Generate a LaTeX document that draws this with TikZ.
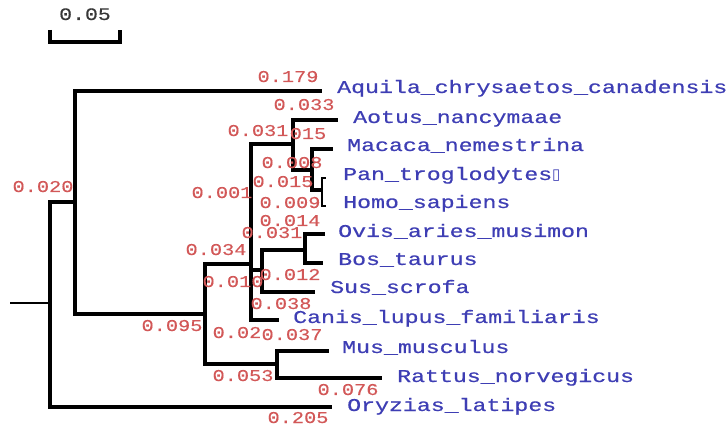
\documentclass[tikz,border=0pt]{standalone}
\usepackage{fontspec}
\newfontfamily\leaffont[FakeStretch=1.29,FakeBold=0.6]{Liberation Mono}
\newfontfamily\lenfont[FakeStretch=1.23,FakeBold=0.3]{Liberation Mono}
\newfontfamily\symfont{DejaVu Sans}
\definecolor{leafblue}{RGB}{62,62,180}
\definecolor{lenred}{RGB}{210,88,88}
\definecolor{scalegray}{RGB}{55,55,55}
\tikzset{
  branch/.style={line width=3.4pt, line join=miter},
  thinbranch/.style={line width=2.4pt, line join=miter},
  leaf/.style={inner sep=0pt, anchor=base west, text=leafblue, font=\leaffont\fontsize{18}{18}\selectfont},
  len/.style={inner sep=0pt, anchor=base, text=lenred, font=\lenfont\fontsize{16.5}{16.5}\selectfont},
}
\begin{document}
\begin{tikzpicture}[x=1pt,y=-1pt]
\useasboundingbox (0,0) rectangle (728,427);
% scale bar
\coordinate (sbL) at (50,30);
\coordinate (sbR) at (120,30);
\draw[line width=3.2pt] (sbL) -- ++(0,12) -| (sbR);
\node[inner sep=0pt, anchor=base, text=scalegray, font=\lenfont\fontsize{17.5}{17.5}\selectfont] (sbt) at (85,20) {0.05};
% internal nodes
\coordinate (r0) at (10,303);
\coordinate (n0) at (50,303);
\coordinate (n1) at (75,202);
\coordinate (n2) at (205,314);
\coordinate (n3) at (251,264);
\coordinate (n4) at (277,364);
\coordinate (n5) at (293,144);
\coordinate (n6) at (262,270);
\coordinate (n7) at (312,170);
\coordinate (n8) at (322,190);
\coordinate (n9) at (305,250);
% leaf ends
\coordinate (eAqu) at (322,91);
\coordinate (eAot) at (338,120);
\coordinate (eMac) at (333,149);
\coordinate (ePan) at (326,178);
\coordinate (eHom) at (326,206);
\coordinate (eOvi) at (325,234);
\coordinate (eBos) at (323,263);
\coordinate (eSus) at (315,292);
\coordinate (eCan) at (279,320);
\coordinate (eMus) at (329,351);
\coordinate (eRat) at (382,378);
\coordinate (eOry) at (332,407);
% branches
\draw[thinbranch] (r0) -- (n0);
\draw[branch] (n0) |- (n1);
\draw[branch] (n0) |- (eOry);
\draw[branch] (n1) |- (eAqu);
\draw[branch] (n1) |- (n2);
\draw[branch] (n2) |- (n3);
\draw[branch] (n2) |- (n4);
\draw[branch] (n4) |- (eMus);
\draw[branch] (n4) |- (eRat);
\draw[branch] (n3) |- (n5);
\draw[branch] (n3) |- (n6);
\draw[branch] (n3) |- (eCan);
\draw[branch] (n5) |- (eAot);
\draw[branch] (n5) |- (n7);
\draw[branch] (n7) |- (eMac);
\draw[branch] (n7) |- (n8);
\draw[thinbranch] (n8) |- (ePan);
\draw[thinbranch] (n8) |- (eHom);
\draw[branch] (n6) |- (n9);
\draw[branch] (n6) |- (eSus);
\draw[branch] (n9) |- (eOvi);
\draw[branch] (n9) |- (eBos);
% leaf labels
\node[leaf] (tAqu) at ([shift={(15,2)}]eAqu) {Aquila\_chrysaetos\_canadensis};
\node[leaf] (tAot) at ([shift={(15,3)}]eAot) {Aotus\_nancymaae};
\node[leaf] (tMac) at ([shift={(14,2)}]eMac) {Macaca\_nemestrina};
\node[leaf] (tPan) at ([shift={(17,2)}]ePan) {Pan\_troglodytes{\symfont\fontsize{15}{15}\selectfont ▯}};
\node[leaf] (tHom) at ([shift={(17,2)}]eHom) {Homo\_sapiens};
\node[leaf] (tOvi) at ([shift={(13,3)}]eOvi) {Ovis\_aries\_musimon};
\node[leaf] (tBos) at ([shift={(15,2)}]eBos) {Bos\_taurus};
\node[leaf] (tSus) at ([shift={(15,1)}]eSus) {Sus\_scrofa};
\node[leaf] (tCan) at ([shift={(14,3)}]eCan) {Canis\_lupus\_familiaris};
\node[leaf] (tMus) at ([shift={(13,2)}]eMus) {Mus\_musculus};
\node[leaf] (tRat) at ([shift={(15,4)}]eRat) {Rattus\_norvegicus};
\node[leaf] (tOry) at ([shift={(15,4)}]eOry) {Oryzias\_latipes};
% branch lengths
\node[len] (l1) at (288,82) {0.179};
\node[len] (l2) at (304,110) {0.033};
\node[len] (l3) at (258,136) {0.031};
\node[len] (l4) at (308,139) {015};
\node[len] (l5) at (222,198) {0.001};
\node[len] (l6) at (292,168) {0.008};
\node[len] (l7) at (283,187) {0.015};
\node[len] (l8) at (290,208) {0.009};
\node[len] (l9) at (290,226) {0.014};
\node[len] (l10) at (272,238) {0.031};
\node[len] (l11) at (216,255) {0.034};
\node[len] (l12) at (233,287) {0.010};
\node[len] (l13) at (290,280) {0.012};
\node[len] (l14) at (281,309) {0.038};
\node[len] (l15) at (237,338) {0.02};
\node[len] (l16) at (292,340) {0.037};
\node[len] (l17) at (172,331) {0.095};
\node[len] (l18) at (243,381) {0.053};
\node[len] (l19) at (348,395) {0.076};
\node[len] (l20) at (298,423) {0.205};
\node[len] (l21) at (43,192) {0.020};
\end{tikzpicture}
\end{document}
